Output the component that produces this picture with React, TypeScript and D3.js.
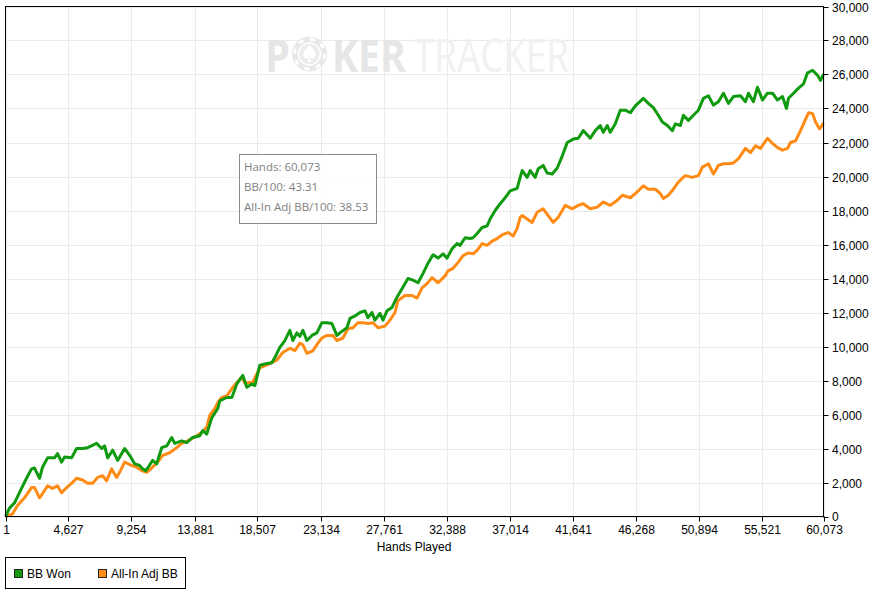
import React from 'react'
import * as d3 from 'd3'

// x tick labels (hands) and y ticks (big blinds)
const handTicks = [1, 4627, 9254, 13881, 18507, 23134, 27761, 32388, 37014, 41641, 46268, 50894, 55521, 60073]
const bbTicks = d3.range(0, 30001, 2000)

// [hands, big blinds]
const bbWon: [number, number][] = [
  [1, 0], [295, 500], [663, 800], [1177, 1650], [1545, 2250], [1913, 2800], [2133, 2850], [2501, 2250],
  [2722, 2900], [3089, 3450], [3604, 3450], [3825, 3700], [4119, 3200], [4339, 3500], [4854, 3450],
  [5222, 4000], [5663, 4000], [6030, 4050], [6692, 4300], [7060, 4000], [7281, 4150], [7501, 3450],
  [7869, 3900], [8236, 3300], [8751, 4000], [9119, 3600], [9486, 3100], [9854, 3000], [10074, 2800],
  [10295, 2700], [10442, 2850], [10810, 3300], [11104, 3100], [11472, 4050], [11840, 4150], [12207, 4650],
  [12428, 4300], [12942, 4450], [13310, 4350], [13752, 4650], [14266, 4750], [14487, 5050], [14781, 4850],
  [15149, 5800], [15590, 6350], [15737, 6800], [16252, 7000], [16620, 7000], [16987, 7800], [17429, 8300],
  [17723, 7600], [18091, 7800], [18311, 7700], [18679, 8900], [19193, 9000], [19561, 9050], [19781, 9350],
  [20149, 9950], [20516, 10350], [20884, 10950], [21105, 10350], [21399, 10800], [21619, 10600],
  [21840, 10950], [22134, 10350], [22502, 10650], [22869, 10800], [23237, 11400], [23605, 11400],
  [23972, 11350], [24340, 10650], [24561, 10800], [25075, 11100], [25296, 11650], [25663, 11800],
  [26031, 12000], [26399, 12100], [26619, 11700], [26913, 12000], [27134, 11550], [27501, 11950],
  [27722, 11550], [28016, 12100], [28384, 12300], [28752, 12900], [29119, 13400], [29561, 14000],
  [29928, 13900], [30296, 13750], [30664, 14300], [31031, 14900], [31399, 15400], [31767, 15200],
  [32135, 15450], [32428, 15200], [32796, 15750], [33164, 16050], [33385, 15950], [33752, 16400],
  [34120, 16350], [34341, 16400], [34635, 16650], [35003, 17000], [35370, 17100], [35591, 17500],
  [35959, 18000], [36326, 18400], [36694, 18750], [37062, 19150], [37577, 19300], [37797, 19950],
  [37944, 20350], [38312, 19950], [38533, 20350], [38900, 19950], [39121, 20450], [39489, 20650],
  [39783, 20200], [40151, 20150], [40518, 20500], [40886, 21200], [41254, 22000], [41695, 22200],
  [42062, 22250], [42430, 22700], [42945, 22250], [43312, 22700], [43680, 23000], [43900, 22600],
  [44195, 23000], [44415, 22600], [44783, 23100], [45150, 23900], [45518, 23900], [45886, 23750],
  [46253, 24150], [46842, 24600], [47209, 24300], [47577, 24050], [47944, 23600], [48238, 23200],
  [48606, 23000], [48974, 22700], [49194, 23100], [49562, 23000], [49783, 23600], [50150, 23300],
  [50518, 23600], [50886, 23900], [51253, 24600], [51621, 24750], [51989, 24200], [52356, 24400],
  [52724, 24900], [53092, 24300], [53459, 24700], [53974, 24750], [54341, 24400], [54562, 24900],
  [54929, 24400], [55224, 25250], [55591, 24500], [55959, 24900], [56327, 24900], [56694, 24500],
  [57062, 24700], [57356, 24000], [57503, 24600], [57871, 24900], [58239, 25200], [58606, 25450],
  [58900, 26100], [59268, 26250], [59636, 25950], [59856, 25650], [60073, 26018],
]

const allInAdj: [number, number][] = [
  [1, 0], [516, 150], [883, 650], [1398, 1100], [1913, 1700], [2133, 1700], [2501, 1100], [2722, 1350],
  [3089, 1800], [3457, 1650], [3825, 1800], [4119, 1400], [4486, 1700], [4854, 1950], [5222, 2250],
  [5663, 2150], [6030, 1950], [6398, 1950], [6766, 2300], [7133, 2400], [7427, 2100], [7795, 2800],
  [8163, 2300], [8383, 2600], [8751, 3200], [9266, 3000], [9633, 2900], [10001, 2700], [10369, 2600],
  [10736, 2850], [11178, 3200], [11545, 3600], [12060, 3750], [12575, 4050], [12942, 4300], [13384, 4450],
  [14046, 4750], [14413, 4950], [14781, 5250], [15001, 5950], [15369, 6350], [15663, 6800], [15884, 7000],
  [16252, 7100], [16693, 7600], [17355, 8200], [17576, 7850], [18164, 7900], [18679, 8750], [19414, 9000],
  [19929, 9200], [20369, 9650], [20884, 9900], [21252, 9750], [21619, 10200], [21840, 10100], [22134, 9600],
  [22575, 9750], [22943, 10200], [23237, 10500], [23605, 10650], [24046, 10650], [24340, 10350],
  [24781, 10500], [25149, 11050], [25516, 11100], [25884, 11400], [26252, 11400], [26619, 11350],
  [26987, 11400], [27354, 11100], [27869, 11200], [28237, 11550], [28604, 12000], [28825, 12700],
  [29340, 13000], [29855, 13000], [30223, 12850], [30590, 13450], [30958, 13700], [31326, 14050],
  [31767, 13750], [32282, 14150], [32502, 14450], [32870, 14600], [33238, 14950], [33605, 15350],
  [33973, 15500], [34341, 15450], [34635, 15650], [35003, 16050], [35370, 15950], [35738, 16200],
  [36106, 16350], [36547, 16600], [36914, 16700], [37282, 16500], [37577, 16950], [37797, 17600],
  [37944, 17700], [38312, 17500], [38680, 17300], [39047, 17900], [39489, 18100], [39856, 17700],
  [40224, 17300], [40592, 17600], [41106, 18300], [41621, 18100], [42062, 18300], [42430, 18400],
  [42945, 18100], [43459, 18200], [43900, 18500], [44415, 18300], [44930, 18600], [45298, 18900],
  [45886, 18750], [46400, 19100], [46842, 19450], [47209, 19250], [47724, 19250], [48091, 19000],
  [48312, 18700], [48680, 18900], [49047, 19250], [49341, 19600], [49709, 19900], [49930, 20050],
  [50444, 19950], [50886, 20050], [51180, 20550], [51621, 20750], [51989, 20150], [52356, 20650],
  [52724, 20750], [53092, 20750], [53459, 20800], [53827, 21050], [54341, 21650], [54709, 21400],
  [55077, 21800], [55444, 21650], [55959, 22250], [56327, 21950], [56694, 21700], [57062, 21550],
  [57430, 21650], [57650, 22000], [58018, 22100], [58386, 22700], [58606, 23100], [58974, 23750],
  [59268, 23700], [59489, 23200], [59783, 22800], [60073, 23146],
]

const seriesNames = ['BB Won', 'All-In Adj BB']
const seriesColors = ['#109a10', '#ff8a14']
const tooltipLines = ['Hands: 60,073', 'BB/100: 43.31', 'All-In Adj BB/100: 38.53']

const W = 873
const H = 601
const plot = { left: 5.5, right: 823.5, top: 6.5, bottom: 516.5 }
const axisFont = '"Liberation Sans", Arial, sans-serif'

export default function App() {
  const x = d3.scaleLinear().domain([1, 60073]).range([plot.left, plot.right])
  const y = d3.scaleLinear().domain([0, 30000]).range([plot.bottom, plot.top])
  const line = d3.line<[number, number]>().x(d => x(d[0])).y(d => y(d[1]))
  const fmt = d3.format(',')

  return (
    <svg width={W} height={H} style={{ position: 'absolute', left: 0, top: 0, background: '#fff' }}>
      {/* grid */}
      <g stroke="#ebebeb" strokeWidth={1}>
        {handTicks.map(t => (
          <line key={'gx' + t} x1={Math.round(x(t)) + 0.5} x2={Math.round(x(t)) + 0.5} y1={plot.top} y2={plot.bottom} />
        ))}
        {bbTicks.map(t => (
          <line key={'gy' + t} x1={plot.left} x2={plot.right} y1={Math.round(y(t)) + 0.5} y2={Math.round(y(t)) + 0.5} />
        ))}
      </g>

      {/* watermark */}
      <g fontFamily='"Open Sans", "Noto Sans", sans-serif'>
        <text x={265} y={72} fontSize={45} fontWeight={700} fill="#e6e6e6" textLength={25} lengthAdjust="spacingAndGlyphs">P</text>
        <circle cx={309.5} cy={54} r={17.5} fill="#e8e8e8" />
        <circle cx={309.5} cy={54} r={15} fill="none" stroke="#fff" strokeWidth={3} strokeDasharray="5 6.8" />
        <circle cx={309.5} cy={54} r={11} fill="#ececec" stroke="#fff" strokeWidth={1.5} />
        <path d="M309.5,45 C305,50 302,53 304,57 C306,60 308.5,58.5 309.5,56.5 C310.5,58.5 313,60 315,57 C317,53 314,50 309.5,45 Z M307.5,62 L311.5,62 L309.5,56 Z" fill="#fff" />
        <text x={332} y={72} fontSize={45} fontWeight={700} fill="#e6e6e6" textLength={74} lengthAdjust="spacingAndGlyphs">KER</text>
        <text x={414} y={72} fontSize={45} fill="#f1f1f1" textLength={155} lengthAdjust="spacingAndGlyphs">TRACKER</text>
      </g>

      {/* series */}
      <path d={line(allInAdj) ?? ''} fill="none" stroke={seriesColors[1]} strokeWidth={3} strokeLinejoin="round" />
      <path d={line(bbWon) ?? ''} fill="none" stroke={seriesColors[0]} strokeWidth={3} strokeLinejoin="round" />

      {/* frame */}
      <rect x={plot.left} y={plot.top} width={plot.right - plot.left} height={plot.bottom - plot.top} fill="none" stroke="#000" strokeWidth={1} />

      {/* bottom axis */}
      <g fontFamily={axisFont} fontSize={12} fill="#000">
        {handTicks.map(t => {
          const px = Math.round(x(t)) + 0.5
          return (
            <g key={'xt' + t}>
              <line x1={px} x2={px} y1={plot.bottom} y2={plot.bottom + 5} stroke="#000" />
              <text x={px} y={534} textAnchor="middle">{fmt(t)}</text>
            </g>
          )
        })}
        <text x={414} y={551} textAnchor="middle">Hands Played</text>
      </g>

      {/* right axis */}
      <g fontFamily={axisFont} fontSize={12} fill="#000">
        {bbTicks.map(t => {
          const py = Math.round(y(t)) + 0.5
          return (
            <g key={'yt' + t}>
              <line x1={plot.right} x2={plot.right + 5} y1={py} y2={py} stroke="#000" />
              <text x={832} y={t === 0 ? py + 3 : py + 4}>{fmt(t)}</text>
            </g>
          )
        })}
      </g>

      {/* tooltip */}
      <g fontFamily='"Open Sans", "Noto Sans", sans-serif' fontSize={11.5} fill="#808080">
        <rect x={239.5} y={154.5} width={137} height={69} fill="#fff" fillOpacity={0.85} stroke="#8a8a8a" />
        {tooltipLines.map((s, i) => (
          <text key={s} x={244} y={171 + i * 20}>{s}</text>
        ))}
      </g>

      {/* legend */}
      <g fontFamily={axisFont} fontSize={12} fill="#000">
        <rect x={5.5} y={557.5} width={180} height={31} fill="#fff" stroke="#000" />
        {seriesNames.map((n, i) => {
          const lx = 14 + i * 84
          return (
            <g key={n}>
              <rect x={lx + 0.5} y={569.5} width={8} height={8} fill={seriesColors[i]} stroke="#222" />
              <text x={lx + 13} y={578}>{n}</text>
            </g>
          )
        })}
      </g>
    </svg>
  )
}
